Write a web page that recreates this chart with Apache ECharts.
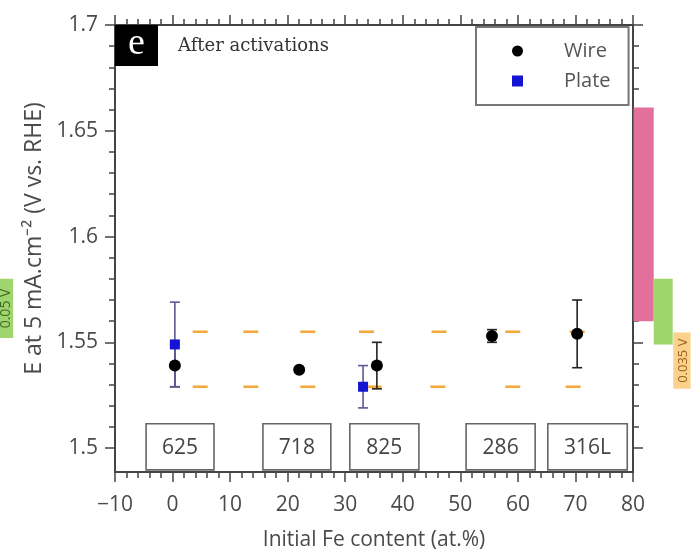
<!DOCTYPE html>
<html>
<head>
<meta charset="utf-8">
<script src="https://cdn.jsdelivr.net/npm/echarts@6/dist/echarts.min.js"></script>
<style>
  html, body { margin: 0; padding: 0; background: #fff; }
  #chart { width: 693px; height: 549px; }
</style>
</head>
<body>
<div id="chart"></div>
<script>
// Alloy grades and the Fe-content span of their label boxes (at.%)
const alloys = ['625', '718', '825', '286', '316L'];
const alloyBoxStart = [-4.6, 15.7, 30.8, 51.0, 65.2];
const alloyBoxEnd = [7.2, 27.5, 42.8, 63.0, 79.0];

// Wire electrodes: Fe content, potential at 5 mA/cm2, error
const wireFe = [0.4, 22.0, 35.5, 55.5, 70.3];
const wireE = [1.539, 1.537, 1.539, 1.553, 1.554];
const wireErr = [0.010, 0.001, 0.011, 0.003, 0.016];

// Plate electrodes
const plateFe = [0.4, 33.1];
const plateE = [1.549, 1.529];
const plateErr = [0.020, 0.010];

// Reference window (dashed orange levels) and where its dashes sit
const refLevels = [1.555, 1.529];
const refDashFe = [
  [4.8, 13.6, 23.5, 33.7, 46.3, 59.1, 70.3],
  [4.8, 13.6, 23.5, 35.0, 46.1, 59.1, 69.6]
];

// Side bars (potential ranges) and side labels
const bandLow = [1.560, 1.549];
const bandHigh = [1.661, 1.580];
const sideLabels = ['0.05 V', '0.035 V'];
const sideLabelLow = [1.552, 1.528];
const sideLabelHigh = [1.580, 1.5546];

// Axis ticks
const yMajorTicks = [1.5, 1.55, 1.6, 1.65, 1.7];
const yMinorTicks = [1.50, 1.51, 1.52, 1.53, 1.54, 1.55, 1.56, 1.57, 1.58, 1.59,
                     1.60, 1.61, 1.62, 1.63, 1.64, 1.65, 1.66, 1.67, 1.68, 1.69, 1.70];

const AXIS_COLOR = '#444';
const TEXT_COLOR = '#4a4a4a';
const FONT = 'Open Sans';
const Y_MIN = 1.4887, Y_MAX = 1.7;

const chart = echarts.init(document.getElementById('chart'));

function yAxisDef(position, ticks, len, showLabel, extra) {
  return Object.assign({
    type: 'value', position: position, min: Y_MIN, max: Y_MAX,
    axisLine: { show: true, onZero: false, lineStyle: { color: AXIS_COLOR, width: 2 } },
    axisTick: { show: true, inside: false, length: len, customValues: ticks,
                lineStyle: { color: AXIS_COLOR, width: 1.5 } },
    axisLabel: showLabel
      ? { show: true, customValues: yMajorTicks, fontFamily: FONT, fontSize: 21, color: TEXT_COLOR, margin: 17,
          formatter: v => String(+v.toFixed(2)) }
      : { show: false },
    splitLine: { show: false }
  }, extra || {});
}

function xAxisDef(position, showLabel, extra) {
  return Object.assign({
    type: 'value', position: position, min: -10, max: 80, interval: 10,
    axisLine: { show: true, onZero: false, lineStyle: { color: AXIS_COLOR, width: 2 } },
    axisTick: { show: true, inside: false, length: 10, lineStyle: { color: AXIS_COLOR, width: 1.5 } },
    minorTick: { show: true, splitNumber: 5, length: 6, lineStyle: { color: AXIS_COLOR, width: 1.5 } },
    axisLabel: showLabel
      ? { show: true, fontFamily: FONT, fontSize: 21, color: TEXT_COLOR, margin: 23,
          formatter: v => String(v).replace('-', '\u2212') }
      : { show: false },
    splitLine: { show: false }
  }, extra || {});
}

function errorBar(params, api) {
  const x = api.value(0), y = api.value(1), e = api.value(2);
  const top = api.coord([x, y + e]);
  const bot = api.coord([x, y - e]);
  const cap = 5;
  const style = { stroke: api.visual('color'), lineWidth: 1.6 };
  return {
    type: 'group',
    children: [
      { type: 'line', shape: { x1: top[0], y1: top[1], x2: bot[0], y2: bot[1] }, style: style },
      { type: 'line', shape: { x1: top[0] - cap, y1: top[1], x2: top[0] + cap, y2: top[1] }, style: style },
      { type: 'line', shape: { x1: bot[0] - cap, y1: bot[1], x2: bot[0] + cap, y2: bot[1] }, style: style }
    ]
  };
}

// Horizontal placement of the side decorations (in at.% units beyond the axis)
const BAND_X = [[80.1, 83.6], [83.6, 86.9]];
const BAND_COLORS = ['#e2709b', '#9fd66c'];
const SIDE_X = [[-30.5, -27.7], [87.0, 90.0]];
const SIDE_BG = ['#9fd46e', '#fbd18b'];
const SIDE_FG = ['#3f6a22', '#9a5f16'];
const SIDE_SIZE = [14, 13];
const BOX_TOP_E = 1.5115, BOX_BOTTOM_E = 1.4897;

const option = {
  animation: false,
  backgroundColor: '#fff',
  grid: { left: 115, right: 60, top: 25, bottom: 77, containLabel: false, outerBoundsMode: 'none' },
  xAxis: [
    xAxisDef('bottom', true, {
      name: 'Initial Fe content (at.%)', nameLocation: 'middle', nameGap: 58,
      nameTextStyle: { fontFamily: FONT, fontSize: 21, color: TEXT_COLOR }
    }),
    xAxisDef('top', false)
  ],
  yAxis: [
    yAxisDef('left', yMajorTicks, 10, true, {
      name: 'E at 5 mA.cm\u207B\u00B2 (V vs. RHE)', nameLocation: 'middle', nameGap: 67,
      nameTextStyle: { fontFamily: FONT, fontSize: 23, color: TEXT_COLOR, padding: [0, 0, 0, 20] }
    }),
    yAxisDef('left', yMinorTicks, 6, false),
    yAxisDef('right', yMajorTicks, 10, false),
    yAxisDef('right', yMinorTicks, 6, false)
  ],
  legend: {
    orient: 'vertical', left: 476, top: 27,
    data: ['Wire', 'Plate'],
    itemWidth: 11, itemHeight: 11, itemGap: 8,
    backgroundColor: '#fff', borderColor: '#777', borderWidth: 2, borderRadius: 0,
    padding: [13, 18, 13, 36],
    textStyle: { fontFamily: FONT, fontSize: 20, color: '#555', lineHeight: 22, padding: [0, 0, 0, 36] }
  },
  graphic: [
    { type: 'rect', left: 115, top: 25, shape: { width: 43, height: 41 }, style: { fill: '#000' }, z: 10 },
    { type: 'text', x: 136.5, y: 44, style: { text: 'e', fill: '#fff', font: '38px "Liberation Serif"',
      align: 'center', verticalAlign: 'middle' }, z: 11 },
    { type: 'text', x: 178, y: 46, style: { text: 'After activations', fill: '#333',
      font: '18px "DejaVu Serif"', align: 'left', verticalAlign: 'middle' }, z: 11 }
  ],
  series: [
    {
      // side bars
      type: 'custom', name: 'bands', clip: false, silent: true, z: 1,
      data: bandLow.map((lo, i) => [BAND_X[i][0], lo, BAND_X[i][1], bandHigh[i]]),
      renderItem: (params, api) => {
        const p0 = api.coord([api.value(0), api.value(3)]);
        const p1 = api.coord([api.value(2), api.value(1)]);
        return { type: 'rect', shape: { x: p0[0], y: p0[1], width: p1[0] - p0[0], height: p1[1] - p0[1] },
                 style: { fill: BAND_COLORS[params.dataIndex] } };
      }
    },
    {
      // side labels
      type: 'custom', name: 'sideLabels', clip: false, silent: true, z: 1,
      data: sideLabelLow.map((lo, i) => [SIDE_X[i][0], lo, SIDE_X[i][1], sideLabelHigh[i]]),
      renderItem: (params, api) => {
        const i = params.dataIndex;
        const p0 = api.coord([api.value(0), api.value(3)]);
        const p1 = api.coord([api.value(2), api.value(1)]);
        return {
          type: 'group', children: [
            { type: 'rect', shape: { x: p0[0], y: p0[1], width: p1[0] - p0[0], height: p1[1] - p0[1] },
              style: { fill: SIDE_BG[i] } },
            { type: 'text', x: (p0[0] + p1[0]) / 2 + 1, y: (p0[1] + p1[1]) / 2, rotation: Math.PI / 2,
              style: { text: sideLabels[i], fill: SIDE_FG[i], font: SIDE_SIZE[i] + 'px "' + FONT + '"',
                       align: 'center', verticalAlign: 'middle' } }
          ]
        };
      }
    },
    {
      // alloy label boxes
      type: 'custom', name: 'alloys', silent: true, z: 2,
      data: alloyBoxStart.map((s, i) => [s, BOX_TOP_E, alloyBoxEnd[i]]),
      renderItem: (params, api) => {
        const p0 = api.coord([api.value(0), BOX_TOP_E]);
        const p1 = api.coord([api.value(2), BOX_BOTTOM_E]);
        return {
          type: 'group', children: [
            { type: 'rect', shape: { x: p0[0], y: p0[1], width: p1[0] - p0[0], height: p1[1] - p0[1] },
              style: { fill: '#fff', stroke: '#666', lineWidth: 1.6 } },
            { type: 'text', x: (p0[0] + p1[0]) / 2, y: (p0[1] + p1[1]) / 2 + 1,
              style: { text: alloys[params.dataIndex], fill: '#444', font: '21px "' + FONT + '"',
                       align: 'center', verticalAlign: 'middle' } }
          ]
        };
      }
    },
    {
      // dashed reference window
      type: 'custom', name: 'reference', silent: true, z: 2,
      data: refLevels.flatMap((lvl, i) => refDashFe[i].map(x => [x, lvl])),
      renderItem: (params, api) => {
        const p = api.coord([api.value(0), api.value(1)]);
        return { type: 'line', shape: { x1: p[0] - 7.5, y1: p[1], x2: p[0] + 7.5, y2: p[1] },
                 style: { stroke: '#f3aa3c', lineWidth: 2.6 } };
      }
    },
    {
      type: 'custom', name: 'Wire error', silent: true, z: 3,
      itemStyle: { color: '#222' },
      data: wireFe.map((x, i) => [x, wireE[i], wireErr[i]]),
      renderItem: errorBar
    },
    {
      type: 'custom', name: 'Plate error', silent: true, z: 3,
      itemStyle: { color: '#5a5a95' },
      data: plateFe.map((x, i) => [x, plateE[i], plateErr[i]]),
      renderItem: errorBar
    },
    {
      type: 'scatter', name: 'Wire', symbol: 'circle', symbolSize: 12, z: 4,
      itemStyle: { color: '#000', opacity: 1 },
      data: wireFe.map((x, i) => [x, wireE[i]])
    },
    {
      type: 'scatter', name: 'Plate', symbol: 'rect', symbolSize: 10, z: 4,
      itemStyle: { color: '#1414d2', opacity: 1 },
      data: plateFe.map((x, i) => [x, plateE[i]])
    }
  ]
};

chart.setOption(option);
</script>
</body>
</html>
